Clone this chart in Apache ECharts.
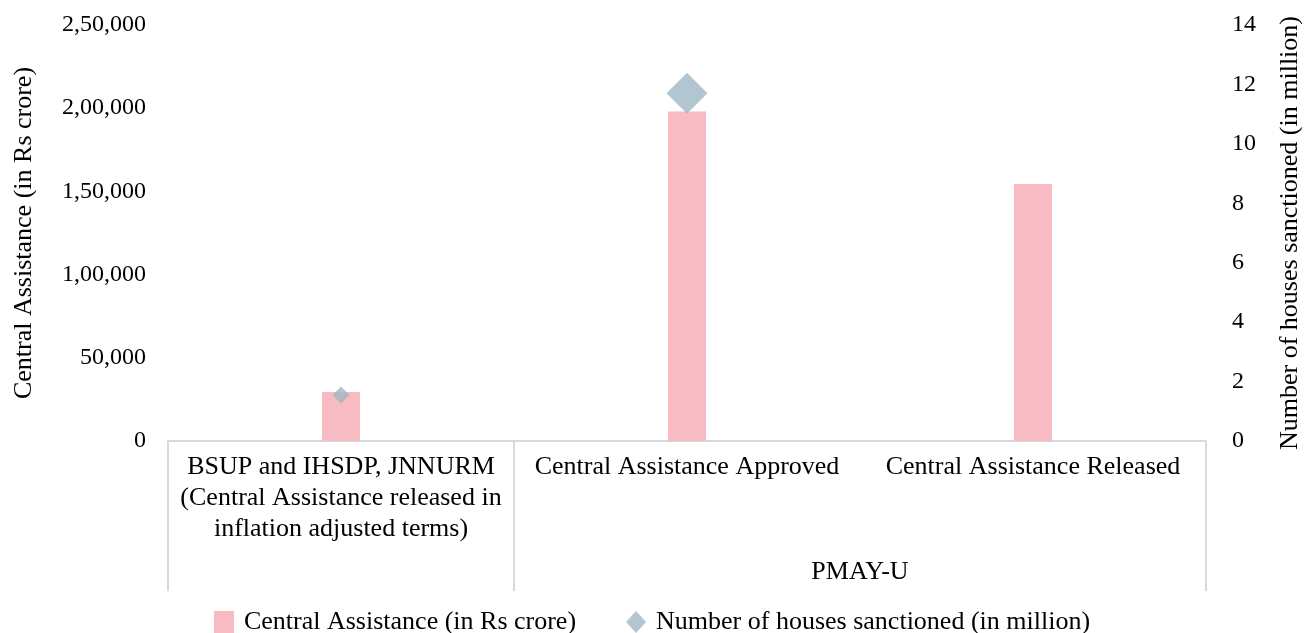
<!DOCTYPE html>
<html>
<head>
<meta charset="utf-8">
<script src="https://cdn.jsdelivr.net/npm/echarts@6/dist/echarts.min.js"></script>
<style>
  html, body { margin: 0; padding: 0; background: #fff; }
  #chart { width: 1304px; height: 633px; }
</style>
</head>
<body>
<div id="chart"></div>
<script>
// categories (first level) and the group they belong to (second level)
var categories = [
  'BSUP and IHSDP, JNNURM\n(Central Assistance released in\ninflation adjusted terms)',
  'Central Assistance Approved',
  'Central Assistance Released'
]
var groups = [
  { name: '', from: 0, to: 1 },
  { name: 'PMAY-U', from: 1, to: 3 }
]
var assistance = [29500, 198000, 154500]   // Rs crore
var houses = [1.55, 11.7, null]             // million
var houseMarkSize = [17, 41, 0]

var barName = 'Central Assistance (in Rs crore)'
var houseName = 'Number of houses sanctioned (in million)'

// 2,50,000 style grouping
function indianFormat(v) {
  var s = String(Math.round(v))
  if (s.length <= 3) return s
  var last3 = s.slice(-3)
  var rest = s.slice(0, -3)
  return rest.replace(/\B(?=(\d{2})+(?!\d))/g, ',') + ',' + last3
}

var font = 'Liberation Serif'
var fs = 26      // words
var numFs = 24   // tick numbers
var textColor = '#000'
var lineColor = '#d9d9d9'

var chart = echarts.init(document.getElementById('chart'))
chart.setOption({
  animation: false,
  textStyle: { fontFamily: font },
  grid: { left: 168, right: 98, top: 25, bottom: 192, containLabel: false, outerBoundsMode: 'none' },
  legend: {
    bottom: -7,
    left: 'center',
    itemWidth: 20,
    itemHeight: 22,
    itemGap: 50,
    textStyle: { fontFamily: font, fontSize: fs, color: textColor, padding: [0, 0, 0, 5] },
    data: [
      { name: barName, icon: 'rect' },
      { name: houseName, icon: 'diamond' }
    ]
  },
  xAxis: [
    {
      type: 'category',
      data: categories,
      axisLine: { lineStyle: { color: lineColor, width: 2 } },
      axisTick: {
        show: true,
        length: 150,
        // only group borders get a separator
        interval: function (idx) { return idx < 2 },
        lineStyle: { color: lineColor, width: 2 }
      },
      axisLabel: {
        interval: 0,
        margin: 11,
        fontSize: fs,
        lineHeight: 31,
        color: textColor,
        align: 'center'
      }
    },
    {
      type: 'value',
      position: 'bottom',
      min: 0,
      max: 3,
      interval: 0.5,
      axisLine: { show: false },
      axisTick: { show: false },
      splitLine: { show: false },
      axisLabel: {
        margin: 118,
        fontSize: fs,
        color: textColor,
        showMinLabel: true,
        showMaxLabel: true,
        formatter: function (v) {
          for (var i = 0; i < groups.length; i++) {
            var g = groups[i]
            if (Math.abs((g.from + g.to) / 2 - v) < 1e-6 && g.to - g.from > 1) return g.name
          }
          return ''
        }
      }
    }
  ],
  yAxis: [
    {
      type: 'value',
      min: 0,
      max: 250000,
      interval: 50000,
      name: barName,
      nameLocation: 'middle',
      nameGap: 131,
      nameTextStyle: { fontFamily: font, fontSize: fs, color: textColor },
      axisLine: { show: false },
      axisTick: { show: false },
      splitLine: { show: false },
      axisLabel: {
        margin: 22,
        fontSize: numFs,
        color: textColor,
        formatter: indianFormat
      }
    },
    {
      type: 'value',
      min: 0,
      max: 14,
      interval: 2,
      name: houseName,
      nameLocation: 'middle',
      nameGap: 71,
      nameTextStyle: { fontFamily: font, fontSize: fs, color: textColor },
      axisLine: { show: false },
      axisTick: { show: false },
      splitLine: { show: false },
      axisLabel: {
        margin: 26,
        fontSize: numFs,
        color: textColor
      }
    }
  ],
  series: [
    {
      name: barName,
      type: 'bar',
      xAxisIndex: 0,
      yAxisIndex: 0,
      barWidth: 38,
      itemStyle: { color: '#f8bbc4' },
      data: assistance
    },
    {
      name: houseName,
      type: 'scatter',
      xAxisIndex: 0,
      yAxisIndex: 1,
      symbol: 'diamond',
      itemStyle: { color: '#9fb8c5' },
      data: houses.map(function (v, i) {
        return { value: v, symbolSize: houseMarkSize[i] }
      }),
      z: 3
    }
  ]
})
</script>
</body>
</html>
